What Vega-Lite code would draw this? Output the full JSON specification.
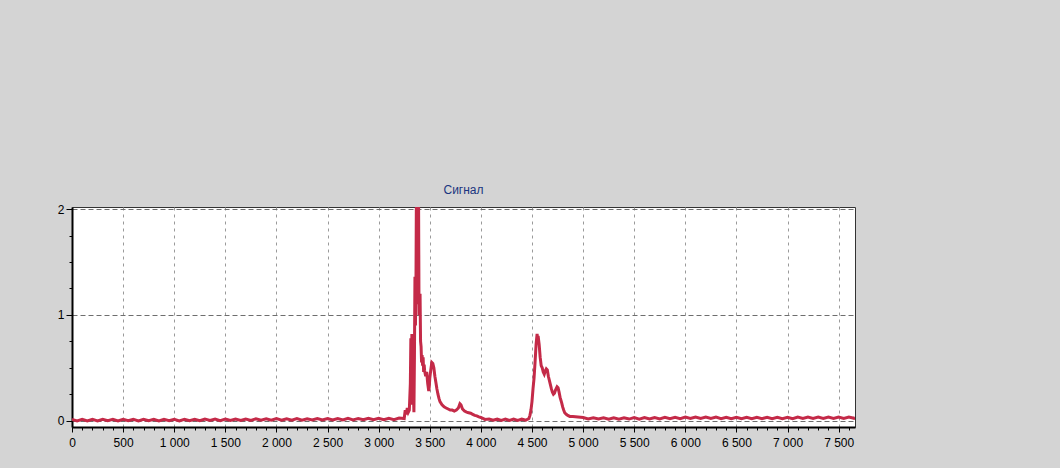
{
  "$schema": "https://vega.github.io/schema/vega-lite/v6.json",
  "autosize": {"type": "none"},
  "padding": {"left": 72, "top": 207, "right": 205, "bottom": 41},
  "width": 783,
  "height": 220,
  "background": "#d4d4d4",
  "title": {"text": "Сигнал", "color": "#1a3580", "fontSize": 12, "fontWeight": "normal", "font": "Liberation Sans", "offset": 6, "anchor": "middle"},
  "config": {
    "view": {"fill": "white", "stroke": "#333333", "strokeWidth": 1},
    "axis": {"labelFont": "Liberation Sans", "labelFontSize": 12, "labelColor": "#000000", "tickColor": "#000000", "domainColor": "#000000", "domainWidth": 2, "labelOverlap": false, "labelFlush": false, "title": null}
  },
  "data": {"values": [
    {"n":0,"v":0.012},{"n":50,"v":-0.002},{"n":100,"v":0.012},{"n":150,"v":-0.002},{"n":200,"v":0.012},{"n":250,"v":-0.002},{"n":300,"v":0.013},{"n":350,"v":0.0},{"n":400,"v":0.012},{"n":450,"v":-0.002},
    {"n":500,"v":0.013},{"n":550,"v":-0.001},{"n":600,"v":0.012},{"n":650,"v":-0.002},{"n":700,"v":0.013},{"n":750,"v":0.0},{"n":800,"v":0.012},{"n":850,"v":-0.002},{"n":900,"v":0.013},{"n":950,"v":0.0},
    {"n":1000,"v":0.012},{"n":1050,"v":-0.002},{"n":1100,"v":0.013},{"n":1150,"v":0.0},{"n":1200,"v":0.013},{"n":1250,"v":0.0},{"n":1300,"v":0.014},{"n":1350,"v":0.001},{"n":1400,"v":0.014},{"n":1450,"v":0.0},
    {"n":1500,"v":0.014},{"n":1550,"v":0.001},{"n":1600,"v":0.015},{"n":1650,"v":0.001},{"n":1700,"v":0.015},{"n":1750,"v":0.002},{"n":1800,"v":0.018},{"n":1850,"v":0.004},{"n":1900,"v":0.018},{"n":1950,"v":0.005},
    {"n":2000,"v":0.019},{"n":2050,"v":0.005},{"n":2100,"v":0.018},{"n":2150,"v":0.005},{"n":2200,"v":0.019},{"n":2250,"v":0.005},{"n":2300,"v":0.018},{"n":2350,"v":0.006},{"n":2400,"v":0.019},{"n":2450,"v":0.006},
    {"n":2500,"v":0.019},{"n":2550,"v":0.006},{"n":2600,"v":0.02},{"n":2650,"v":0.007},{"n":2700,"v":0.021},{"n":2750,"v":0.007},{"n":2800,"v":0.021},{"n":2850,"v":0.008},{"n":2900,"v":0.022},{"n":2950,"v":0.008},
    {"n":3000,"v":0.022},{"n":3050,"v":0.009},{"n":3100,"v":0.023},{"n":3150,"v":0.01},{"n":3200,"v":0.024},{"n":3250,"v":0.02},
    {"n":3260,"v":0.10},{"n":3270,"v":0.06},{"n":3280,"v":0.12},{"n":3290,"v":0.08},{"n":3300,"v":0.10},{"n":3310,"v":0.35},{"n":3315,"v":0.78},{"n":3320,"v":0.30},{"n":3325,"v":0.82},{"n":3330,"v":0.15},
    {"n":3335,"v":0.70},{"n":3340,"v":0.25},{"n":3345,"v":0.08},{"n":3350,"v":0.60},{"n":3355,"v":1.36},{"n":3360,"v":0.90},{"n":3365,"v":1.30},{"n":3370,"v":2.3},{"n":3375,"v":1.10},{"n":3380,"v":2.4},
    {"n":3385,"v":1.5},{"n":3390,"v":2.2},{"n":3395,"v":1.0},{"n":3400,"v":1.1},{"n":3405,"v":1.2},{"n":3410,"v":0.75},{"n":3415,"v":0.70},{"n":3420,"v":0.55},{"n":3425,"v":0.62},{"n":3430,"v":0.52},
    {"n":3435,"v":0.60},{"n":3440,"v":0.46},{"n":3445,"v":0.53},{"n":3450,"v":0.47},{"n":3460,"v":0.42},{"n":3470,"v":0.46},{"n":3480,"v":0.35},{"n":3490,"v":0.28},{"n":3495,"v":0.32},{"n":3500,"v":0.40},
    {"n":3510,"v":0.48},{"n":3520,"v":0.55},{"n":3530,"v":0.54},{"n":3540,"v":0.50},{"n":3550,"v":0.42},{"n":3560,"v":0.36},{"n":3570,"v":0.30},{"n":3580,"v":0.25},{"n":3590,"v":0.21},{"n":3600,"v":0.18},
    {"n":3620,"v":0.15},{"n":3640,"v":0.13},{"n":3660,"v":0.12},{"n":3680,"v":0.11},{"n":3700,"v":0.10},{"n":3720,"v":0.10},{"n":3740,"v":0.09},{"n":3760,"v":0.10},{"n":3780,"v":0.12},{"n":3795,"v":0.16},
    {"n":3805,"v":0.15},{"n":3820,"v":0.11},{"n":3840,"v":0.09},{"n":3860,"v":0.08},{"n":3880,"v":0.075},{"n":3900,"v":0.07},{"n":3920,"v":0.06},{"n":3940,"v":0.05},{"n":3960,"v":0.045},{"n":3980,"v":0.035},
    {"n":4000,"v":0.03},{"n":4040,"v":0.012},{"n":4080,"v":0.016},{"n":4120,"v":0.004},{"n":4160,"v":0.014},{"n":4200,"v":0.003},{"n":4240,"v":0.014},{"n":4280,"v":0.002},{"n":4320,"v":0.014},{"n":4360,"v":0.003},
    {"n":4400,"v":0.014},{"n":4440,"v":0.004},{"n":4460,"v":0.015},{"n":4470,"v":0.02},{"n":4480,"v":0.05},{"n":4490,"v":0.10},{"n":4500,"v":0.18},{"n":4510,"v":0.30},{"n":4520,"v":0.40},{"n":4530,"v":0.55},
    {"n":4540,"v":0.72},{"n":4550,"v":0.82},{"n":4555,"v":0.76},{"n":4560,"v":0.80},{"n":4570,"v":0.72},{"n":4580,"v":0.60},{"n":4590,"v":0.52},{"n":4600,"v":0.50},{"n":4610,"v":0.46},{"n":4620,"v":0.44},
    {"n":4630,"v":0.47},{"n":4640,"v":0.49},{"n":4650,"v":0.48},{"n":4660,"v":0.42},{"n":4670,"v":0.38},{"n":4680,"v":0.34},{"n":4690,"v":0.30},{"n":4700,"v":0.27},{"n":4710,"v":0.25},{"n":4720,"v":0.26},
    {"n":4730,"v":0.29},{"n":4745,"v":0.32},{"n":4755,"v":0.31},{"n":4765,"v":0.27},{"n":4775,"v":0.22},{"n":4790,"v":0.17},{"n":4800,"v":0.13},{"n":4810,"v":0.10},{"n":4820,"v":0.075},{"n":4835,"v":0.06},
    {"n":4850,"v":0.05},{"n":4870,"v":0.04},{"n":4900,"v":0.04},{"n":4950,"v":0.035},{"n":5000,"v":0.03},
    {"n":5050,"v":0.016},{"n":5100,"v":0.028},{"n":5150,"v":0.015},{"n":5200,"v":0.028},{"n":5250,"v":0.014},{"n":5300,"v":0.028},{"n":5350,"v":0.014},{"n":5400,"v":0.028},{"n":5450,"v":0.015},{"n":5500,"v":0.029},
    {"n":5550,"v":0.015},{"n":5600,"v":0.029},{"n":5650,"v":0.016},{"n":5700,"v":0.03},{"n":5750,"v":0.017},{"n":5800,"v":0.031},{"n":5850,"v":0.018},{"n":5900,"v":0.032},{"n":5950,"v":0.019},{"n":6000,"v":0.033},
    {"n":6050,"v":0.02},{"n":6100,"v":0.034},{"n":6150,"v":0.021},{"n":6200,"v":0.034},{"n":6250,"v":0.02},{"n":6300,"v":0.033},{"n":6350,"v":0.019},{"n":6400,"v":0.032},{"n":6450,"v":0.018},{"n":6500,"v":0.031},
    {"n":6550,"v":0.018},{"n":6600,"v":0.031},{"n":6650,"v":0.018},{"n":6700,"v":0.032},{"n":6750,"v":0.019},{"n":6800,"v":0.032},{"n":6850,"v":0.019},{"n":6900,"v":0.031},{"n":6950,"v":0.019},{"n":7000,"v":0.032},
    {"n":7050,"v":0.019},{"n":7100,"v":0.033},{"n":7150,"v":0.02},{"n":7200,"v":0.034},{"n":7250,"v":0.021},{"n":7300,"v":0.034},{"n":7350,"v":0.02},{"n":7400,"v":0.033},{"n":7450,"v":0.02},{"n":7500,"v":0.033},
    {"n":7550,"v":0.021},{"n":7600,"v":0.034},{"n":7650,"v":0.022},{"n":7660,"v":0.03}
  ]},
  "mark": {"type": "line", "color": "#c42a48", "strokeWidth": 3, "clip": true, "strokeJoin": "miter"},
  "encoding": {
    "x": {
      "field": "n", "type": "quantitative",
      "scale": {"domain": [0, 7660], "nice": false, "zero": false},
      "axis": {
        "values": [0,100,200,300,400,500,600,700,800,900,1000,1100,1200,1300,1400,1500,1600,1700,1800,1900,2000,2100,2200,2300,2400,2500,2600,2700,2800,2900,3000,3100,3200,3300,3400,3500,3600,3700,3800,3900,4000,4100,4200,4300,4400,4500,4600,4700,4800,4900,5000,5100,5200,5300,5400,5500,5600,5700,5800,5900,6000,6100,6200,6300,6400,6500,6600,6700,6800,6900,7000,7100,7200,7300,7400,7500,7600],
        "labelExpr": "datum.value % 500 === 0 ? replace(format(datum.value, ','), ',', ' ') : ''",
        "labelPadding": 5,
        "tickSize": {"condition": {"test": "datum.value % 500 === 0", "value": 5}, "value": 3},
        "grid": true,
        "gridColor": "#9a9a9a",
        "gridDash": [3, 4],
        "gridWidth": 1,
        "gridOpacity": {"condition": {"test": "datum.value % 500 === 0 && datum.value > 0", "value": 1}, "value": 0}
      }
    },
    "y": {
      "field": "v", "type": "quantitative",
      "scale": {"domain": [-0.06, 2.02], "nice": false, "zero": false},
      "axis": {
        "values": [0, 0.25, 0.5, 0.75, 1, 1.25, 1.5, 1.75, 2],
        "labelExpr": "datum.value % 1 === 0 ? format(datum.value, 'd') : ''",
        "labelPadding": 2,
        "tickSize": {"condition": {"test": "datum.value % 1 === 0", "value": 6}, "value": 3},
        "grid": true,
        "gridColor": "#6e6e6e",
        "gridDash": [5, 3],
        "gridWidth": 1,
        "gridOpacity": {"condition": {"test": "datum.value % 1 === 0", "value": 1}, "value": 0}
      }
    }
  }
}
